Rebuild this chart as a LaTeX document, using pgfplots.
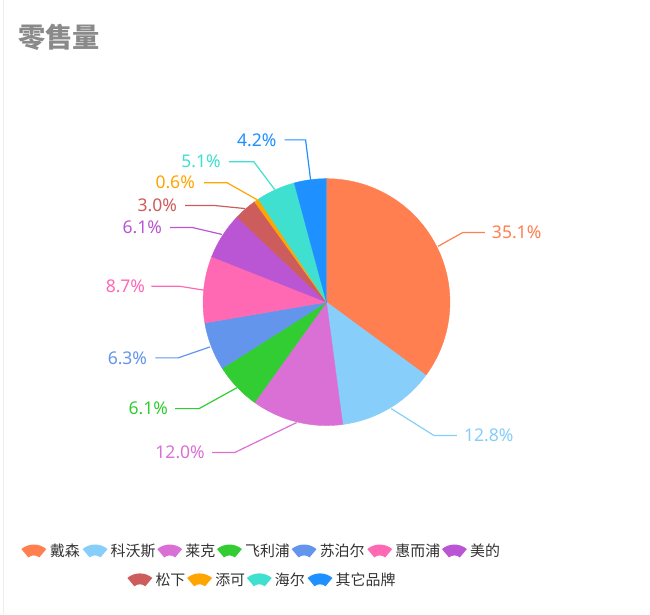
\documentclass[border=0pt]{standalone}
\usepackage{pgfplots}
\usepackage{pgfplotstable}
\pgfplotsset{compat=1.18}
\usepackage{fontspec}
\setmainfont{Noto Sans CJK SC}
\newfontfamily\latinfont{Noto Sans}
\usetikzlibrary{calc}

\definecolor{slice0}{HTML}{FF7F50}
\definecolor{slice1}{HTML}{87CEFA}
\definecolor{slice2}{HTML}{DA70D6}
\definecolor{slice3}{HTML}{32CD32}
\definecolor{slice4}{HTML}{6495ED}
\definecolor{slice5}{HTML}{FF69B4}
\definecolor{slice6}{HTML}{BA55D3}
\definecolor{slice7}{HTML}{CD5C5C}
\definecolor{slice8}{HTML}{FFA500}
\definecolor{slice9}{HTML}{40E0D0}
\definecolor{slice10}{HTML}{1E90FF}
\definecolor{titlegray}{HTML}{8A8A8A}
\definecolor{legtext}{HTML}{333333}

\pgfplotstableread{
name value
戴森 35.1
科沃斯 12.8
莱克 12.0
飞利浦 6.1
苏泊尔 6.3
惠而浦 8.7
美的 6.1
松下 3.0
添可 0.6
海尔 5.1
其它品牌 4.2
}\datatable

\newcommand{\fan}[3]{% x, y, color
  \begin{scope}[shift={(axis cs:#1,#2)}]
    \fill[#3] ($(50:14.6pt)+(0,-9.75pt)$) arc[start angle=50,end angle=130,radius=14.6pt]
      -- ($(130:6.4pt)+(0,-9.75pt)$) arc[start angle=130,end angle=50,radius=6.4pt] -- cycle;
  \end{scope}}
\newcommand{\legtxt}[3]{% x, y, text
  \node[anchor=west, inner sep=0pt, text=legtext, font=\fontsize{11.25pt}{13pt}\selectfont] at (axis cs:#1,#2) {#3};}
\newcommand{\lblW}[4]{% x, y, color, text
  \node[anchor=west, inner sep=0pt, text=#3, font=\latinfont\fontsize{13.2pt}{15pt}\selectfont] at (axis cs:#1,#2) {#4};}
\newcommand{\lblE}[4]{%
  \node[anchor=east, inner sep=0pt, text=#3, font=\latinfont\fontsize{13.2pt}{15pt}\selectfont] at (axis cs:#1,#2) {#4};}

\begin{document}
\gdef\cum{0}
\foreach \i in {0,...,10}{%
  \pgfplotstablegetelem{\i}{value}\of\datatable
  \pgfmathsetmacro\sa{\cum*3.6}%
  \pgfmathsetmacro\newcum{\cum+\pgfplotsretval}%
  \pgfmathsetmacro\sb{\newcum*3.6}%
  \expandafter\xdef\csname sA\i\endcsname{\sa}%
  \expandafter\xdef\csname sB\i\endcsname{\sb}%
  \xdef\cum{\newcum}%
}%
\begin{tikzpicture}
\begin{axis}[
  hide axis, scale only axis,
  width=487.5pt, height=462pt,
  xmin=0, xmax=650, ymin=0, ymax=616,
  y dir=reverse, clip=false,
]
\path[fill=white] (axis cs:0,0) rectangle (axis cs:650,616);
\draw[black!7, line width=0.75pt] (axis cs:1,0) -- (axis cs:1,616);

% title
\node[anchor=west, inner sep=0pt, text=titlegray, font=\fontsize{20.5pt}{22pt}\selectfont\bfseries] at (axis cs:15,36.5) {零售量};

% slices
\pgfplotsinvokeforeach{0,...,10}{
  \edef\tmp{\noexpand\addplot[fill=slice#1, draw=slice#1, line width=0.3pt,
     domain=\csname sA#1\endcsname:\csname sB#1\endcsname, samples=90]
     ({325+124*sin(x)},{303-124*cos(x)}) -- (axis cs:325,303) -- cycle;}
  \tmp
}

% leader lines
\addplot[slice0, line width=0.9pt] coordinates {(437,247) (462,233) (484,233)};
\addplot[slice1, line width=0.9pt] coordinates {(390,410) (433,437) (456,437)};
\addplot[slice2, line width=0.9pt] coordinates {(295,424) (233,454) (210,454)};
\addplot[slice3, line width=0.9pt] coordinates {(235,389) (197,410) (173,410)};
\addplot[slice4, line width=0.9pt] coordinates {(208,348) (176,359) (153,359)};
\addplot[slice5, line width=0.9pt] coordinates {(202,291) (177,287) (149,287)};
\addplot[slice6, line width=0.9pt] coordinates {(220,235) (190,228) (168,228)};
\addplot[slice7, line width=0.9pt] coordinates {(243,209) (213,206) (183,206)};
\addplot[slice8, line width=0.9pt] coordinates {(255,200) (225,183) (202,183)};
\addplot[slice9, line width=0.9pt] coordinates {(273,190) (252,162) (227,162)};
\addplot[slice10, line width=0.9pt] coordinates {(309,180) (304,140) (283,140)};

% labels
\lblW{491}{233}{slice0}{35.1\%}
\lblW{463}{437}{slice1}{12.8\%}
\lblE{203}{454}{slice2}{12.0\%}
\lblE{166}{410}{slice3}{6.1\%}
\lblE{145}{359}{slice4}{6.3\%}
\lblE{143}{287}{slice5}{8.7\%}
\lblE{160}{228}{slice6}{6.1\%}
\lblE{175}{206}{slice7}{3.0\%}
\lblE{193}{183}{slice8}{0.6\%}
\lblE{219}{162}{slice9}{5.1\%}
\lblE{275}{140}{slice10}{4.2\%}

% legend
\fan{31}{553}{slice0}   \legtxt{47}{553}{戴森}
\fan{92.5}{553}{slice1} \legtxt{108}{553}{科沃斯}
\fan{167.5}{553}{slice2}\legtxt{183}{553}{莱克}
\fan{227.5}{553}{slice3}\legtxt{243}{553}{飞利浦}
\fan{302.5}{553}{slice4}\legtxt{318}{553}{苏泊尔}
\fan{378.5}{553}{slice5}\legtxt{394}{553}{惠而浦}
\fan{453.5}{553}{slice6}\legtxt{469}{553}{美的}
\fan{137.5}{582}{slice7}\legtxt{153}{582}{松下}
\fan{197.5}{582}{slice8}\legtxt{213}{582}{添可}
\fan{257.5}{582}{slice9}\legtxt{273}{582}{海尔}
\fan{318.5}{582}{slice10}\legtxt{334}{582}{其它品牌}
\end{axis}
\end{tikzpicture}
\end{document}
